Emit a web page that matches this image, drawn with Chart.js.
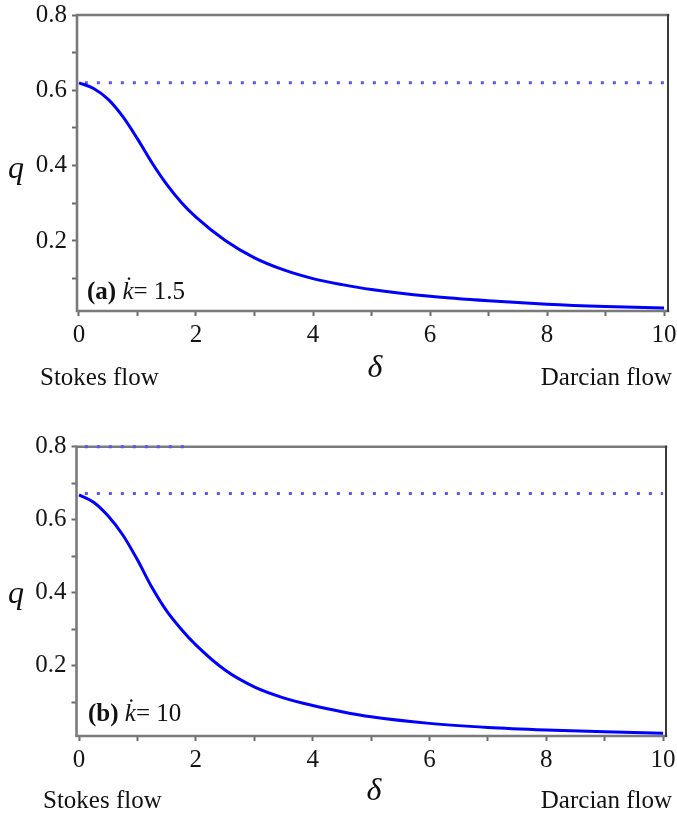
<!DOCTYPE html>
<html><head><meta charset="utf-8">
<script src="https://cdn.jsdelivr.net/npm/chart.js@4.4.0/dist/chart.umd.min.js"></script>
<style>
html,body{margin:0;padding:0;background:#fff;}
#wrap{position:relative;width:677px;height:813px;overflow:hidden;background:#fff;}
canvas{position:absolute;left:0;}
#c1{top:0;}
#c2{top:400px;}
</style></head><body>
<div id="wrap"><canvas id="c1" width="677" height="400"></canvas><canvas id="c2" width="677" height="413"></canvas></div>
<script>
// ---- data ----
const deltaValues = [0, 0.25, 0.5, 0.75, 1, 1.25, 1.5, 1.75, 2, 2.5, 3, 3.5, 4, 4.5, 5, 6, 7, 8, 9, 10];
const qPanelA =     [0.620, 0.605, 0.576, 0.530, 0.471, 0.407, 0.350, 0.302, 0.263, 0.201, 0.155, 0.123, 0.100, 0.084, 0.071, 0.053, 0.041, 0.032, 0.026, 0.022];
const qPanelB =     [0.668, 0.648, 0.610, 0.558, 0.490, 0.414, 0.350, 0.300, 0.257, 0.188, 0.142, 0.112, 0.091, 0.074, 0.060, 0.042, 0.031, 0.024, 0.019, 0.015];
const dottedAX = [0.1, 10];
const dottedAQ = [0.62, 0.62];
const dottedBX = [0.1, 10];
const dottedBQ = [0.672, 0.672];
const dottedB2X = [0.1, 1.9];
const dottedB2Q = [0.8, 0.8];
const xTickValues = [0, 1, 2, 3, 4, 5, 6, 7, 8, 9, 10];
const xTickLabels = ['0', '', '2', '', '4', '', '6', '', '8', '', '10'];
const yTickValues = [0.1, 0.2, 0.3, 0.4, 0.5, 0.6, 0.7, 0.8];
const yTickLabels = ['', '0.2', '', '0.4', '', '0.6', '', '0.8'];

const SERIF = "'Liberation Serif', 'DejaVu Serif', serif";

function pts(xs, ys) { return xs.map((x, i) => ({x: x, y: ys[i]})); }

const decor = {
  id: 'decor',
  beforeDatasetsDraw(chart, args, o) {
    const ctx = chart.ctx, a = chart.chartArea;
    ctx.save();
    ctx.lineCap = 'square';
    ctx.strokeStyle = '#7a7a7a';
    ctx.lineWidth = 2.6;
    ctx.beginPath();
    ctx.moveTo(a.left, a.bottom); ctx.lineTo(a.left, a.top); ctx.lineTo(a.right, a.top);
    ctx.moveTo(a.left, a.bottom); ctx.lineTo(a.right, a.bottom);
    ctx.stroke();
    ctx.strokeStyle = '#3a3a3a';
    ctx.lineWidth = 2;
    ctx.beginPath();
    ctx.moveTo(a.right, a.top); ctx.lineTo(a.right, a.bottom);
    ctx.stroke();
    ctx.restore();
  },
  afterDraw(chart, args, o) {
    const ctx = chart.ctx;
    ctx.save();
    ctx.fillStyle = '#111';
    ctx.textBaseline = 'alphabetic';
    (o.texts || []).forEach(t => {
      let x = t.x;
      if (t.align === 'right' || t.align === 'center') {
        let w = 0;
        t.runs.forEach(r => { ctx.font = r.font; w += ctx.measureText(r.t).width; });
        x = t.align === 'right' ? t.x - w : t.x - w / 2;
      }
      ctx.textAlign = 'left';
      t.runs.forEach(r => { ctx.font = r.font; ctx.fillText(r.t, x, t.y); x += ctx.measureText(r.t).width; });
    });
    ctx.restore();
  }
};

function makeChart(id, cfg) {
  const tickFont = {family: SERIF, size: 25};
  return new Chart(document.getElementById(id), {
    type: 'line',
    data: {
      datasets: [
        {data: pts(deltaValues, cfg.q), borderColor: '#0000ff', borderWidth: 3, pointRadius: 0, cubicInterpolationMode: 'monotone', fill: false},
        ...cfg.dotted.map(d => ({data: pts(d[0], d[1]), borderColor: '#5555ff', borderWidth: 3, borderDash: [3, 9], pointRadius: 0, fill: false, clip: 6}))
      ]
    },
    options: {
      responsive: false, animation: false, devicePixelRatio: 1,
      layout: {padding: {top: cfg.top, right: cfg.right, left: 0, bottom: 0}},
      plugins: {legend: {display: false}, tooltip: {enabled: false}, title: {display: false},
        decor: {texts: cfg.texts}},
      scales: {
        x: {
          type: 'linear', min: cfg.xmin, max: cfg.xmax,
          afterBuildTicks: s => { s.ticks = xTickValues.map(v => ({value: v})); },
          afterFit: s => { s.height = cfg.xh; s.paddingLeft = 0; s.paddingRight = 0; },
          ticks: {font: tickFont, color: '#151515', padding: 4, maxRotation: 0, autoSkip: false,
            callback: (v, i) => xTickLabels[i]},
          grid: {drawOnChartArea: false, drawTicks: true, tickLength: 5, tickColor: '#6a6a6a', tickWidth: 2},
          border: {display: false}
        },
        y: {
          type: 'linear', min: cfg.ymin, max: 0.8,
          afterBuildTicks: s => { s.ticks = yTickValues.map(v => ({value: v})); },
          afterFit: s => { s.width = cfg.yw; s.paddingTop = 0; s.paddingBottom = 0; },
          ticks: {font: tickFont, color: '#151515', padding: 5, autoSkip: false,
            callback: (v, i) => yTickLabels[i]},
          grid: {drawOnChartArea: false, drawTicks: true, tickLength: 5, tickColor: '#6a6a6a', tickWidth: 2},
          border: {display: false}
        }
      }
    },
    plugins: [decor]
  });
}

const fReg = '25px ' + SERIF, fBold = 'bold 25px ' + SERIF, fIt = 'italic 25px ' + SERIF, fBig = 'italic 32px ' + SERIF;

makeChart('c1', {
  q: qPanelA, dotted: [[dottedAX, dottedAQ]],
  top: 15, right: 9, yw: 77, xh: 89, xmin: -0.034, xmax: 10.068, ymin: 0.014,
  texts: [
    {x: 8, y: 178, runs: [{t: 'q', font: fBig}]},
    {x: 375, y: 377, align: 'center', runs: [{t: 'δ', font: fBig}]},
    {x: 40, y: 385, runs: [{t: 'Stokes flow', font: fReg}]},
    {x: 672, y: 385, align: 'right', runs: [{t: 'Darcian flow', font: fReg}]},
    {x: 87, y: 299, runs: [{t: '(a)', font: fBold}, {t: ' ', font: fReg}, {t: 'k\u0307', font: fIt}, {t: '= 1.5', font: fReg}]}
  ]
});

makeChart('c2', {
  q: qPanelB, dotted: [[dottedBX, dottedBQ], [dottedB2X, dottedB2Q]],
  top: 46.7, right: 11, yw: 76.5, xh: 77, xmin: -0.043, xmax: 10.05, ymin: 0.0074,
  texts: [
    {x: 8, y: 203, runs: [{t: 'q', font: fBig}]},
    {x: 374, y: 400, align: 'center', runs: [{t: 'δ', font: fBig}]},
    {x: 43, y: 408, runs: [{t: 'Stokes flow', font: fReg}]},
    {x: 672, y: 408, align: 'right', runs: [{t: 'Darcian flow', font: fReg}]},
    {x: 88, y: 321, runs: [{t: '(b)', font: fBold}, {t: ' ', font: fReg}, {t: 'k\u0307', font: fIt}, {t: '= 10', font: fReg}]}
  ]
});
</script>
</body></html>
